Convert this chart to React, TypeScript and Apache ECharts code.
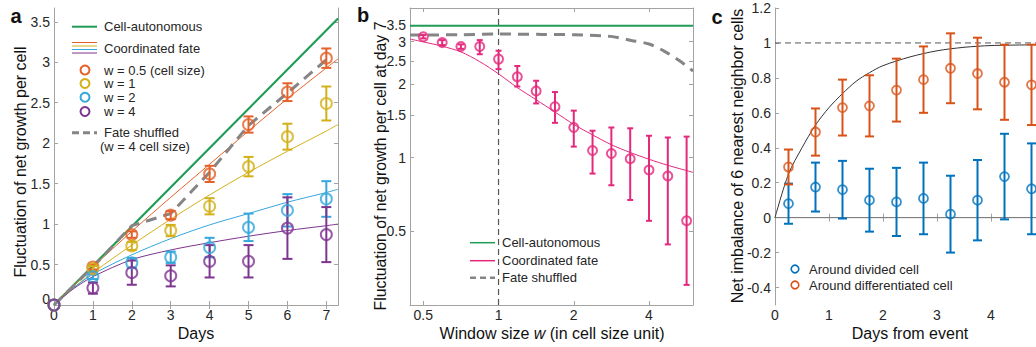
import React, { useEffect, useRef } from 'react';
import * as echarts from 'echarts';

const FONT = '"Liberation Sans", Arial, Helvetica, sans-serif';
const AXIS_COLOR = '#a3a3a3';
const TEXT_COLOR = '#262626';

// ---------- Panel a ----------
const aDays = [0, 1, 2, 3, 4, 5, 6, 7];
const aW05Mean = [0, 0.47, 0.87, 1.11, 1.62, 2.23, 2.63, 3.05];
const aW05Err = [0, 0.03, 0.04, 0.05, 0.1, 0.1, 0.11, 0.12];
const aW1Mean = [0, 0.45, 0.73, 0.92, 1.22, 1.71, 2.08, 2.49];
const aW1Err = [0, 0.03, 0.05, 0.07, 0.1, 0.12, 0.16, 0.21];
const aW2Mean = [0, 0.35, 0.52, 0.59, 0.71, 0.96, 1.17, 1.31];
const aW2Err = [0, 0.03, 0.06, 0.07, 0.12, 0.17, 0.2, 0.22];
const aW4Mean = [0, 0.21, 0.4, 0.36, 0.54, 0.54, 0.95, 0.87];
const aW4Err = [0, 0.07, 0.15, 0.13, 0.2, 0.2, 0.38, 0.34];

const aFitDays = [0, 0.5, 1, 2, 3, 4, 5, 6, 7, 7.3];
const aFitW05 = [0, 0.24, 0.47, 0.91, 1.33, 1.74, 2.15, 2.55, 2.93, 3.04];
const aFitW1 = [0, 0.21, 0.4, 0.74, 1.06, 1.36, 1.64, 1.9, 2.15, 2.23];
const aFitW2 = [0, 0.21, 0.38, 0.62, 0.82, 0.99, 1.13, 1.27, 1.39, 1.43];
const aFitW4 = [0, 0.2, 0.35, 0.56, 0.68, 0.77, 0.85, 0.92, 0.98, 1.0];

const aAutoDays = [0, 7.3];
const aAuto = [0, 3.54];

const aShufDays = [0, 1, 2, 3, 4, 5, 6, 7];
const aShuf = [0, 0.47, 0.98, 1.13, 1.64, 2.22, 2.62, 3.03];

const aXTicks = [0, 1, 2, 3, 4, 5, 6, 7];
const aYTicks = [0, 0.5, 1, 1.5, 2, 2.5, 3, 3.5];

// ---------- Panel b ----------
const bW = [0.5, 0.595, 0.707, 0.841, 1, 1.189, 1.414, 1.682, 2, 2.378, 2.828, 3.364, 4, 4.757, 5.657];
const bMean = [3.14, 2.97, 2.86, 2.86, 2.54, 2.15, 1.88, 1.62, 1.33, 1.07, 1.04, 0.99, 0.89, 0.84, 0.55];
const bLow = [3.09, 2.9, 2.8, 2.66, 2.31, 1.96, 1.67, 1.39, 1.11, 0.86, 0.77, 0.67, 0.55, 0.44, 0.3];
const bHigh = [3.19, 3.04, 2.92, 3.04, 2.75, 2.38, 2.07, 1.86, 1.56, 1.29, 1.33, 1.32, 1.23, 1.21, 1.22];

const bFitW = [0.4423, 0.5, 0.595, 0.707, 0.841, 1, 1.189, 1.414, 1.682, 2, 2.378, 2.828, 3.364, 4, 4.757, 6];
const bFit = [3.07, 2.99, 2.87, 2.72, 2.48, 2.21, 1.94, 1.73, 1.54, 1.37, 1.24, 1.13, 1.05, 0.985, 0.93, 0.87];

const bShufW = [0.4423, 0.7, 1, 1.5, 2, 2.8, 3.4, 4, 4.6, 5.3, 6];
const bShuf = [3.19, 3.2, 3.22, 3.21, 3.2, 3.15, 3.03, 2.93, 2.74, 2.5, 2.27];

const bAutoW = [0.4423, 6];
const bAuto = [3.48, 3.48];

const bXTicks = [0.5, 1, 2, 4];
const bYTicks = [0.5, 1, 1.5, 2, 2.5, 3, 3.5];

// ---------- Panel c ----------
const cT = [0.25, 0.75, 1.25, 1.75, 2.25, 2.75, 3.25, 3.75, 4.25, 4.75];
const cDiffMean = [0.29, 0.49, 0.63, 0.64, 0.73, 0.79, 0.855, 0.825, 0.775, 0.76];
const cDiffErr = [0.1, 0.135, 0.16, 0.175, 0.18, 0.19, 0.2, 0.205, 0.215, 0.23];
const cDivMean = [0.08, 0.175, 0.16, 0.1, 0.09, 0.11, 0.02, 0.1, 0.235, 0.165];
const cDivErr = [0.115, 0.14, 0.165, 0.18, 0.195, 0.205, 0.22, 0.23, 0.245, 0.26];

const cFitT = [0, 0.25, 0.5, 0.75, 1, 1.25, 1.5, 1.75, 2, 2.5, 3, 3.5, 4, 5];
const cFit = [0, 0.25, 0.4, 0.53, 0.63, 0.71, 0.78, 0.83, 0.87, 0.92, 0.955, 0.975, 0.985, 0.99];

const cXTicks = [0, 1, 2, 3, 4];
const cYTicks = [-0.4, -0.2, 0, 0.2, 0.4, 0.6, 0.8, 1, 1.2];

// ---------- colors ----------
const GREEN = '#1f9d57';
const ORANGE = '#e4622a';
const YELLOW = '#d3b01a';
const CYAN = '#35a7dc';
const PURPLE = '#7e3590';
const PINK = '#e4287c';
const GRAY = '#858585';
const C_ORANGE = '#d95319';
const C_BLUE = '#0072bd';

const fmt = (v: number) => String(Math.round(v * 1000) / 1000);

function xAxes(gi: number, type: string, min: number, max: number, ticks: number[]) {
  const base = {
    gridIndex: gi,
    type,
    min,
    max,
    splitLine: { show: false },
    axisLine: { show: true, lineStyle: { color: AXIS_COLOR, width: 1 } },
    axisTick: { show: true, inside: true, length: 4, customValues: ticks, lineStyle: { color: AXIS_COLOR } },
  };
  return [
    {
      ...base,
      position: 'bottom',
      axisLabel: {
        customValues: ticks,
        formatter: (v: number) => fmt(v),
        color: TEXT_COLOR,
        fontSize: 14,
        fontFamily: FONT,
        margin: 3,
      },
    },
    { ...base, position: 'top', axisLabel: { show: false } },
  ];
}

function yAxes(gi: number, type: string, min: number, max: number, ticks: number[], raiseZero = false) {
  const base = {
    gridIndex: gi,
    type,
    min,
    max,
    splitLine: { show: false },
    axisLine: { show: true, onZero: false, lineStyle: { color: AXIS_COLOR, width: 1 } },
    axisTick: { show: true, inside: true, length: 4, customValues: ticks, lineStyle: { color: AXIS_COLOR } },
  };
  return [
    {
      ...base,
      position: 'left',
      axisLabel: {
        customValues: ticks,
        formatter: (v: number) => (raiseZero && v === 0 ? '{z|0}' : fmt(v)),
        color: TEXT_COLOR,
        fontSize: 14,
        fontFamily: FONT,
        margin: 4,
        rich: {
          z: { fontSize: 14, fontFamily: FONT, color: TEXT_COLOR, padding: [0, 0, 12, 0] },
        },
      },
    },
    { ...base, position: 'right', axisLabel: { show: false } },
  ];
}

function lineSeries(xi: number, yi: number, xs: number[], ys: number[], color: string, width: number, dash?: any, smooth?: number, z = 2) {
  return {
    type: 'line',
    xAxisIndex: xi,
    yAxisIndex: yi,
    data: xs.map((x, i) => [x, ys[i]]),
    showSymbol: false,
    symbol: 'none',
    smooth: smooth || false,
    silent: true,
    z,
    lineStyle: { color, width, type: dash || 'solid', cap: 'butt' },
  };
}

function scatterSeries(xi: number, yi: number, xs: number[], ys: number[], color: string, size: number, bw: number, z = 5) {
  return {
    type: 'scatter',
    xAxisIndex: xi,
    yAxisIndex: yi,
    data: xs.map((x, i) => [x, ys[i]]),
    symbol: 'circle',
    symbolSize: size,
    silent: true,
    z,
    itemStyle: { color: 'rgba(0,0,0,0)', borderColor: color, borderWidth: bw },
  };
}

function errorSeries(xi: number, yi: number, rows: number[][], color: string, cap: number, lw: number, z = 4) {
  return {
    type: 'custom',
    xAxisIndex: xi,
    yAxisIndex: yi,
    data: rows,
    silent: true,
    z,
    encode: { x: 0, y: [1, 2] },
    renderItem: (params: any, api: any) => {
      const x = api.value(0);
      const lo = api.coord([x, api.value(1)]);
      const hi = api.coord([x, api.value(2)]);
      const st = { stroke: color, lineWidth: lw };
      return {
        type: 'group',
        children: [
          { type: 'line', shape: { x1: lo[0], y1: lo[1], x2: hi[0], y2: hi[1] }, style: st },
          { type: 'line', shape: { x1: lo[0] - cap, y1: lo[1], x2: lo[0] + cap, y2: lo[1] }, style: st },
          { type: 'line', shape: { x1: hi[0] - cap, y1: hi[1], x2: hi[0] + cap, y2: hi[1] }, style: st },
        ],
      };
    },
  };
}

const symRows = (xs: number[], m: number[], e: number[]) =>
  xs.map((x, i) => [x, m[i] - e[i], m[i] + e[i]]).filter((r, i) => e[i] > 0);

function txt(x: number, y: number, text: string, size: number, opts: any = {}) {
  return {
    type: 'text',
    x,
    y,
    rotation: opts.rotation || 0,
    silent: true,
    z: 100,
    style: {
      text,
      fill: opts.fill || TEXT_COLOR,
      fontSize: size,
      fontFamily: FONT,
      fontWeight: opts.bold ? 'bold' : 'normal',
      align: opts.align || 'left',
      verticalAlign: 'middle',
      rich: opts.rich,
    },
  };
}

function gline(x1: number, y1: number, x2: number, y2: number, color: string, lw: number, dash?: number[]) {
  return {
    type: 'line',
    silent: true,
    z: 100,
    shape: { x1, y1, x2, y2 },
    style: { stroke: color, lineWidth: lw, lineDash: dash },
  };
}

function gcircle(cx: number, cy: number, r: number, color: string, lw: number) {
  return {
    type: 'circle',
    silent: true,
    z: 100,
    shape: { cx, cy, r },
    style: { fill: 'none', stroke: color, lineWidth: lw },
  };
}

export default function App() {
  const ref = useRef<HTMLDivElement>(null);

  useEffect(() => {
    if (!ref.current) return;
    const chart = echarts.init(ref.current, undefined, { renderer: 'svg' });

    const grids = [
      { left: 54, top: 8, width: 284, height: 297, outerBoundsMode: 'none', containLabel: false },
      { left: 410, top: 8, width: 283, height: 297, outerBoundsMode: 'none', containLabel: false },
      { left: 775, top: 8, width: 270, height: 297, outerBoundsMode: 'none', containLabel: false },
    ];

    const xAxis = [
      ...xAxes(0, 'value', 0, 7.3, aXTicks),
      ...xAxes(1, 'log', 0.4423, 6, bXTicks),
      ...xAxes(2, 'value', 0, 5, cXTicks),
    ];
    const yAxis = [
      ...yAxes(0, 'value', 0, 3.67, aYTicks, true),
      ...yAxes(1, 'log', 0.248, 4.12, bYTicks),
      ...yAxes(2, 'value', -0.5, 1.2, cYTicks),
    ];

    const series: any[] = [
      // panel a
      lineSeries(0, 0, aAutoDays, aAuto, GREEN, 2.2),
      lineSeries(0, 0, aFitDays, aFitW05, ORANGE, 1, undefined, 0.3),
      lineSeries(0, 0, aFitDays, aFitW1, YELLOW, 1, undefined, 0.3),
      lineSeries(0, 0, aFitDays, aFitW2, CYAN, 1, undefined, 0.3),
      lineSeries(0, 0, aFitDays, aFitW4, PURPLE, 1, undefined, 0.3),
      lineSeries(0, 0, aShufDays, aShuf, GRAY, 3, [11, 7], undefined, 3),
      errorSeries(0, 0, symRows(aDays, aW05Mean, aW05Err), ORANGE, 5, 2),
      scatterSeries(0, 0, aDays, aW05Mean, ORANGE, 11, 2),
      errorSeries(0, 0, symRows(aDays, aW1Mean, aW1Err), YELLOW, 5, 2),
      scatterSeries(0, 0, aDays, aW1Mean, YELLOW, 11, 2),
      errorSeries(0, 0, symRows(aDays, aW2Mean, aW2Err), CYAN, 5, 2),
      scatterSeries(0, 0, aDays, aW2Mean, CYAN, 11, 2),
      errorSeries(0, 0, symRows(aDays, aW4Mean, aW4Err), PURPLE, 5, 2),
      scatterSeries(0, 0, aDays, aW4Mean, PURPLE, 11, 2),
      // panel b
      lineSeries(2, 2, [1, 1], [0.248, 4.12], '#555555', 1.2, [6, 4]),
      lineSeries(2, 2, bAutoW, bAuto, GREEN, 2),
      lineSeries(2, 2, bShufW, bShuf, GRAY, 3, [11, 7], 0.3),
      lineSeries(2, 2, bFitW, bFit, PINK, 1, undefined, 0.3),
      errorSeries(2, 2, bW.map((w, i) => [w, bLow[i], bHigh[i]]), PINK, 3, 2),
      scatterSeries(2, 2, bW, bMean, PINK, 9, 2),
      // panel c
      lineSeries(4, 4, [0, 5], [0, 0], '#7a7a7a', 1),
      lineSeries(4, 4, [0, 5], [1, 1], '#555555', 1, [6, 4]),
      lineSeries(4, 4, cFitT, cFit, '#333333', 1, undefined, 0.3),
      errorSeries(4, 4, symRows(cT, cDivMean, cDivErr), C_BLUE, 4.5, 2),
      scatterSeries(4, 4, cT, cDivMean, C_BLUE, 9, 1.8),
      errorSeries(4, 4, symRows(cT, cDiffMean, cDiffErr), C_ORANGE, 4.5, 2),
      scatterSeries(4, 4, cT, cDiffMean, C_ORANGE, 9, 1.8),
    ];

    const graphic: any[] = [
      // panel letters
      txt(16, 16, 'a', 20, { bold: true, align: 'center', fill: '#111' }),
      txt(363, 15, 'b', 20, { bold: true, align: 'center', fill: '#111' }),
      txt(717, 17, 'c', 20, { bold: true, align: 'center', fill: '#111' }),
      // axis titles
      txt(196, 333, 'Days', 16, { align: 'center', fill: '#111' }),
      txt(20, 162, 'Fluctuation of net growth per cell', 16, { align: 'center', rotation: Math.PI / 2, fill: '#111' }),
      txt(552, 333, '{n|Window size }{i|w}{n| (in cell size unit)}', 16, {
        align: 'center',
        fill: '#111',
        rich: {
          n: { fontSize: 16, fontFamily: FONT, fill: '#111' },
          i: { fontSize: 16, fontFamily: FONT, fontStyle: 'italic', fill: '#111' },
        },
      }),
      txt(380, 166, 'Fluctuation of net growth per cell at day 7', 15.8, { align: 'center', rotation: Math.PI / 2, fill: '#111' }),
      txt(910, 333, 'Days from event', 16, { align: 'center', fill: '#111' }),
      txt(737, 156, 'Net imbalance of 6 nearest neighbor cells', 16, { align: 'center', rotation: Math.PI / 2, fill: '#111' }),
      // legend a
      gline(72, 26.7, 97, 26.7, GREEN, 2),
      txt(104, 26.7, 'Cell-autonomous', 13),
      gline(72, 42.5, 97, 42.5, ORANGE, 1),
      gline(72, 46, 97, 46, YELLOW, 1),
      gline(72, 49.5, 97, 49.5, CYAN, 1),
      gline(72, 53, 97, 53, PURPLE, 1),
      txt(104, 48.3, 'Coordinated fate', 13),
      gcircle(85, 70, 4.5, ORANGE, 2),
      txt(104, 70, 'w = 0.5 (cell size)', 13),
      gcircle(85, 83.5, 4.5, YELLOW, 2),
      txt(104, 83.5, 'w = 1', 13),
      gcircle(85, 97.3, 4.5, CYAN, 2),
      txt(104, 97.3, 'w = 2', 13),
      gcircle(85, 111.5, 4.5, PURPLE, 2),
      txt(104, 111.5, 'w = 4', 13),
      gline(72, 132.7, 97, 132.7, GRAY, 3, [7, 4]),
      txt(104, 132.7, 'Fate shuffled', 13),
      txt(100, 146, '(w = 4 cell size)', 13),
      // legend b
      gline(470, 242.7, 495, 242.7, GREEN, 1.5),
      txt(502, 242.7, 'Cell-autonomous', 13),
      gline(470, 260.7, 495, 260.7, PINK, 1.5),
      txt(502, 260.7, 'Coordinated fate', 13),
      gline(470, 277.7, 495, 277.7, GRAY, 2.5, [6, 4]),
      txt(502, 277.7, 'Fate shuffled', 13),
      // legend c
      gcircle(795, 269, 3.8, C_BLUE, 1.6),
      txt(809, 269, 'Around divided cell', 13),
      gcircle(795, 285, 3.8, C_ORANGE, 1.6),
      txt(809, 285, 'Around differentiated cell', 13),
    ];

    chart.setOption({
      animation: false,
      backgroundColor: '#ffffff',
      textStyle: { fontFamily: FONT },
      grid: grids,
      xAxis,
      yAxis,
      series,
      graphic,
    });

    return () => chart.dispose();
  }, []);

  return (
    <div
      ref={ref}
      style={{ position: 'absolute', left: 0, top: 0, width: 1036, height: 347, overflow: 'hidden' }}
    />
  );
}
